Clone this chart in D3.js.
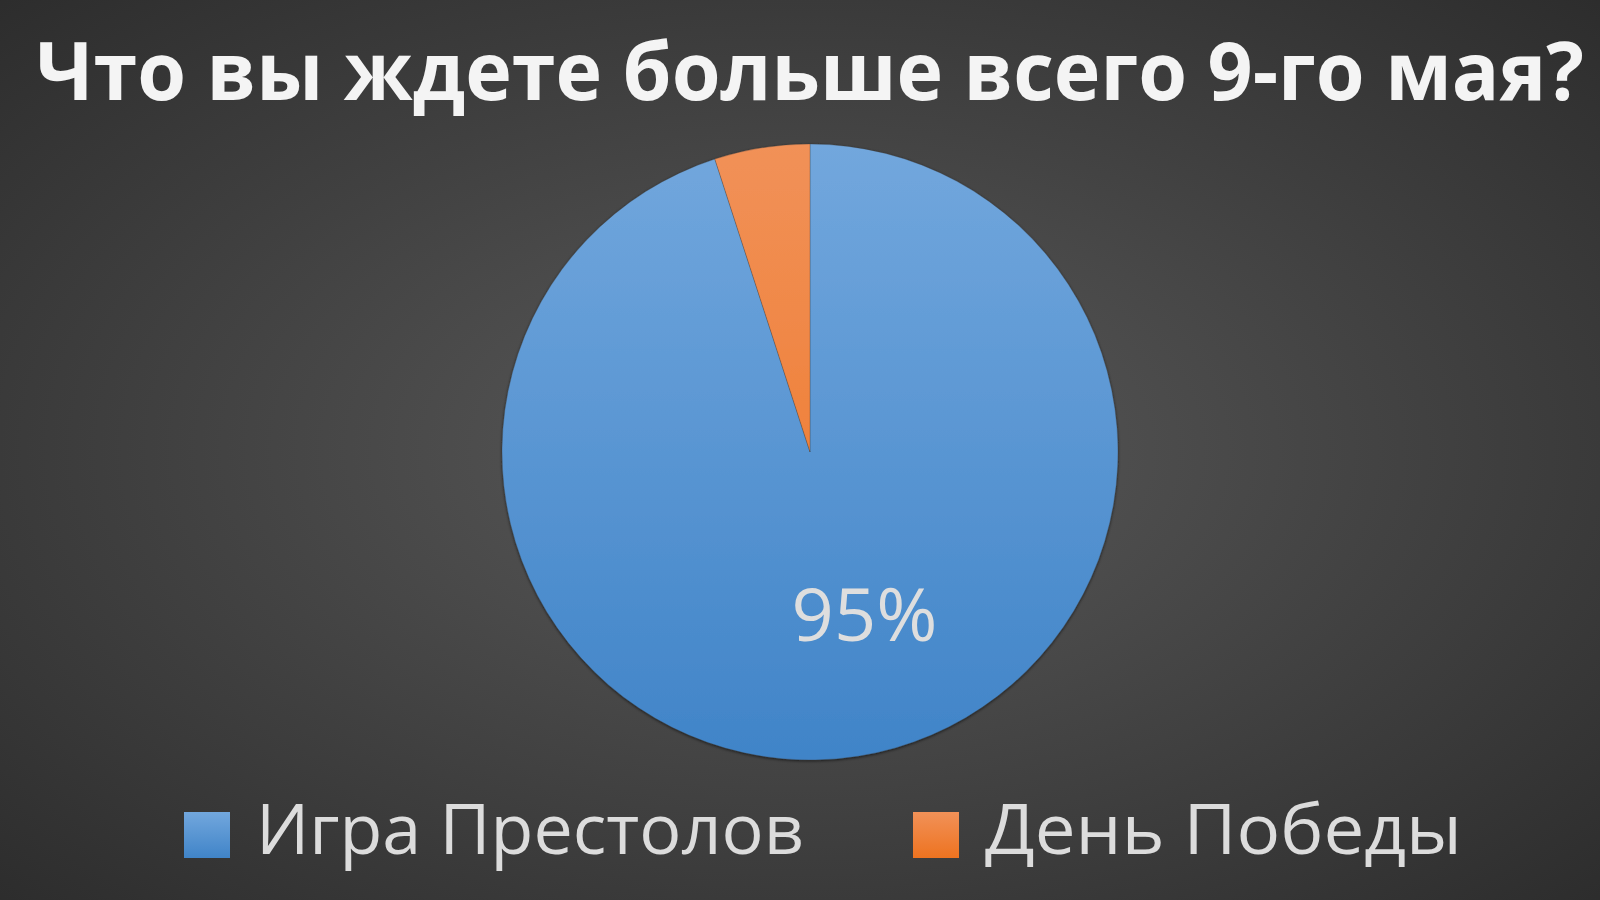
<!DOCTYPE html>
<html>
<head>
<meta charset="utf-8">
<script src="https://cdn.jsdelivr.net/npm/d3@7"></script>
<style>
  html, body { margin: 0; padding: 0; background: #2e2e2e; }
  svg { display: block; }
</style>
</head>
<body>
<div id="chart"></div>
<script>
// Pie chart: what people wait for on May 9
const title = "Что вы ждете больше всего 9-го мая?";
const categories = ["Игра Престолов", "День Победы"];
const values = [95, 5];
const labels = ["95%", ""];

const W = 1600, H = 900;
const cx = 810, cy = 452, radius = 308;

const svg = d3.select("#chart").append("svg")
    .attr("width", W)
    .attr("height", H);

const defs = svg.append("defs");

// background radial gradient
const bg = defs.append("radialGradient")
    .attr("id", "bg")
    .attr("cx", "50%").attr("cy", "50%").attr("r", "72%");
bg.append("stop").attr("offset", "0%").attr("stop-color", "#5a5a5a");
bg.append("stop").attr("offset", "100%").attr("stop-color", "#2c2c2c");

// slice gradients (top lighter, bottom darker), in pie-local coordinates
const fills = [
    ["#72a7dd", "#4084c8"],
    ["#f19158", "#ee7320"]
];
fills.forEach((f, i) => {
    const g = defs.append("linearGradient")
        .attr("id", "grad" + i)
        .attr("gradientUnits", "userSpaceOnUse")
        .attr("x1", 0).attr("y1", -radius)
        .attr("x2", 0).attr("y2", radius);
    g.append("stop").attr("offset", "0%").attr("stop-color", f[0]);
    g.append("stop").attr("offset", "100%").attr("stop-color", f[1]);

    const lg = defs.append("linearGradient")
        .attr("id", "lgrad" + i)
        .attr("x1", 0).attr("y1", 0).attr("x2", 0).attr("y2", 1);
    lg.append("stop").attr("offset", "0%").attr("stop-color", f[0]);
    lg.append("stop").attr("offset", "100%").attr("stop-color", f[1]);
});

const shadow = defs.append("filter").attr("id", "shadow")
    .attr("x", "-10%").attr("y", "-10%").attr("width", "120%").attr("height", "120%");
shadow.append("feDropShadow")
    .attr("dx", 0).attr("dy", 1).attr("stdDeviation", 1.5)
    .attr("flood-color", "#000").attr("flood-opacity", 0.6);

svg.append("rect")
    .attr("width", W).attr("height", H)
    .attr("fill", "url(#bg)");

// title: squeeze horizontally so it fits the same span as the reference
const titleText = svg.append("text")
    .attr("x", 0)
    .attr("y", 0)
    .attr("text-anchor", "middle")
    .attr("fill", "#f4f4f4")
    .style("font-family", "'Open Sans', 'DejaVu Sans', sans-serif")
    .style("font-weight", "bold")
    .style("font-size", "80px")
    .text(title);
const natural = titleText.node().getComputedTextLength();
const sx = Math.min(1, 1548 / natural);
titleText.attr("transform", `translate(810,100) scale(${sx},1)`);

// pie
const pie = d3.pie().sort(null).value(d => d);
const arcs = pie(values);
const arc = d3.arc().innerRadius(0).outerRadius(radius);
const labelArc = d3.arc().innerRadius(radius * 0.55).outerRadius(radius * 0.55);

const g = svg.append("g")
    .attr("transform", `translate(${cx},${cy})`);

g.append("g")
    .attr("filter", "url(#shadow)")
    .selectAll("path")
    .data(arcs)
    .enter().append("path")
    .attr("d", arc)
    .attr("fill", (d, i) => `url(#grad${i})`)
    .attr("stroke", "#3a3a3a")
    .attr("stroke-opacity", 0.35)
    .attr("stroke-width", 0.8);

g.selectAll("text.lbl")
    .data(arcs.filter((d, i) => labels[i]))
    .enter().append("text")
    .attr("class", "lbl")
    .attr("x", d => labelArc.centroid(d)[0] + 28)
    .attr("y", d => labelArc.centroid(d)[1] + 22)
    .attr("text-anchor", "middle")
    .attr("fill", "#dedede")
    .style("font-family", "'Open Sans', 'DejaVu Sans', sans-serif")
    .style("font-size", "74px")
    .text((d) => labels[d.index]);

// legend
const legendX = d3.scalePoint()
    .domain(categories)
    .range([184, 913]);
const legendTextLen = [548, 477];

const item = svg.append("g").selectAll("g")
    .data(categories)
    .enter().append("g")
    .attr("transform", d => `translate(${legendX(d)},812)`);

item.append("rect")
    .attr("width", 46)
    .attr("height", 46)
    .attr("fill", (d, i) => `url(#lgrad${i})`);

item.append("text")
    .attr("x", 72)
    .attr("y", 42)
    .attr("fill", "#dcdcdc")
    .style("font-family", "'Open Sans', 'DejaVu Sans', sans-serif")
    .style("font-size", "70px")
    .attr("textLength", (d, i) => legendTextLen[i])
    .attr("lengthAdjust", "spacingAndGlyphs")
    .text(d => d);
</script>
</body>
</html>
